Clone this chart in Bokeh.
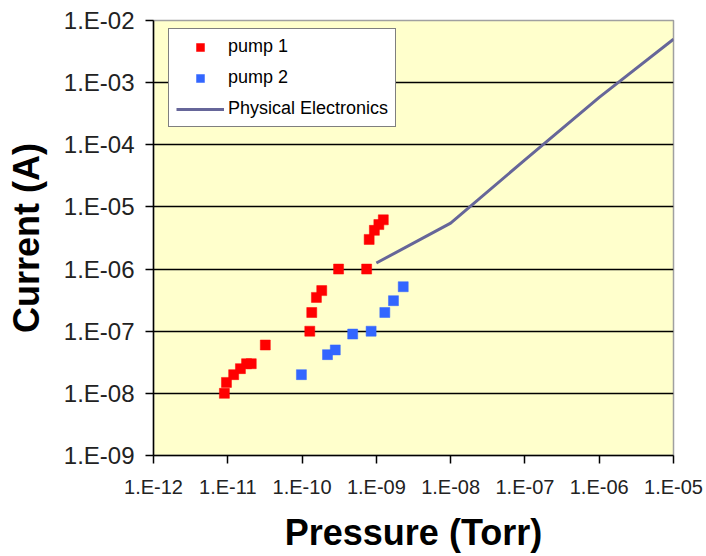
from bokeh.plotting import figure
from bokeh.models import (Range1d, FixedTicker, CustomJSTickFormatter, Legend,
                          LegendItem, ColumnDataSource)
from bokeh.embed import file_html
from bokeh.resources import INLINE

# Ion pump current versus pressure
pump1_pressure = [9.0e-12, 9.6e-12, 1.2e-11, 1.48e-11, 1.79e-11, 2.07e-11, 3.2e-11,
                  1.27e-10, 1.35e-10, 1.56e-10, 1.84e-10, 3.1e-10, 7.4e-10,
                  8.0e-10, 9.4e-10, 1.08e-9, 1.24e-9]
pump1_current = [1.0e-8, 1.5e-8, 2.0e-8, 2.5e-8, 3.0e-8, 3.0e-8, 6.0e-8,
                 1.0e-7, 2.0e-7, 3.5e-7, 4.5e-7, 1.0e-6, 1.0e-6,
                 3.0e-6, 4.2e-6, 5.2e-6, 6.2e-6]

pump2_pressure = [9.8e-11, 2.2e-10, 2.8e-10, 4.8e-10, 8.5e-10, 1.3e-9, 1.7e-9, 2.3e-9]
pump2_current = [2.0e-8, 4.2e-8, 5.0e-8, 9.0e-8, 1.0e-7, 2.0e-7, 3.1e-7, 5.2e-7]

phi_pressure = [1e-9, 1e-8, 1e-7, 1e-6, 1e-5]
phi_current = [1.25e-6, 5.5e-6, 5.7e-5, 5.8e-4, 5.0e-3]

x_ticks = [1e-12, 1e-11, 1e-10, 1e-9, 1e-8, 1e-7, 1e-6, 1e-5]
x_tick_labels = ["1.E-12", "1.E-11", "1.E-10", "1.E-09", "1.E-08",
                 "1.E-07", "1.E-06", "1.E-05"]
y_ticks = [1e-9, 1e-8, 1e-7, 1e-6, 1e-5, 1e-4, 1e-3, 1e-2]
y_tick_labels = ["1.E-09", "1.E-08", "1.E-07", "1.E-06", "1.E-05",
                 "1.E-04", "1.E-03", "1.E-02"]

FONT = "Liberation Sans"

p = figure(width=706, height=556, x_axis_type="log", y_axis_type="log",
           x_range=Range1d(1e-12, 1e-5), y_range=Range1d(1e-9, 1e-2),
           output_backend="svg", toolbar_location=None,
           min_border_left=153, min_border_right=33,
           min_border_top=20, min_border_bottom=101)

p.background_fill_color = "#FFFFCC"
p.border_fill_color = "white"
p.outline_line_color = "#A0A0A0"
p.outline_line_width = 1.5

lookup_code = """
let best = 0, bd = Infinity;
for (let i = 0; i < tvals.length; i++) {
  const d = Math.abs(Math.log10(tick) - Math.log10(tvals[i]));
  if (d < bd) { bd = d; best = i; }
}
return tlabels[best];
"""

for ax, ticks, labels, size in ((p.xaxis[0], x_ticks, x_tick_labels, "20px"),
                                (p.yaxis[0], y_ticks, y_tick_labels, "24px")):
    ax.ticker = FixedTicker(ticks=ticks, minor_ticks=[])
    ax.formatter = CustomJSTickFormatter(args=dict(tvals=ticks, tlabels=labels),
                                         code=lookup_code)
    ax.major_label_text_font = FONT
    ax.major_label_text_font_size = size
    ax.major_label_text_color = "#222222"
    ax.axis_line_color = "black"
    ax.axis_line_width = 1.5
    ax.major_tick_line_color = "black"
    ax.major_tick_line_width = 1.5
    ax.major_tick_in = 0
    ax.major_tick_out = 8
    ax.minor_tick_line_color = None
    ax.axis_label_text_font = FONT
    ax.axis_label_text_font_style = "bold"
    ax.axis_label_text_font_size = "36px"
    ax.axis_label_text_color = "black"

p.xaxis.axis_label = "Pressure (Torr)"
p.yaxis.axis_label = "Current (A)"
p.xaxis.major_label_standoff = 12
p.yaxis.major_label_standoff = 11
p.xaxis.axis_label_standoff = 11
p.yaxis.axis_label_standoff = 14

p.xgrid.grid_line_color = None
p.ygrid.ticker = FixedTicker(ticks=[1e-8, 1e-7, 1e-6, 1e-5, 1e-4, 1e-3])
p.ygrid.grid_line_color = "black"
p.ygrid.grid_line_width = 1.5

src1 = ColumnDataSource(dict(x=pump1_pressure, y=pump1_current))
src2 = ColumnDataSource(dict(x=pump2_pressure, y=pump2_current))
src3 = ColumnDataSource(dict(x=phi_pressure, y=phi_current))

r3 = p.line("x", "y", source=src3, line_color="#666699", line_width=3)
r1 = p.scatter("x", "y", source=src1, marker="square", size=10,
               fill_color="#FF0000", line_color="#FF0000", line_width=0.5)
r2 = p.scatter("x", "y", source=src2, marker="square", size=10,
               fill_color="#3366FF", line_color="#3366FF", line_width=0.5)

legend = Legend(items=[LegendItem(label="pump 1", renderers=[r1]),
                       LegendItem(label="pump 2", renderers=[r2]),
                       LegendItem(label="Physical Electronics", renderers=[r3])],
                location=(15, 328), margin=0, padding=7, spacing=10,
                glyph_width=48, glyph_height=20, label_height=20,
                label_standoff=4, label_text_font=FONT,
                label_text_font_size="18px", label_text_color="black",
                border_line_color="black", border_line_width=1.2,
                background_fill_color="white", background_fill_alpha=1.0)
p.add_layout(legend, "center")

open("out.html", "w").write(file_html(p, INLINE))
